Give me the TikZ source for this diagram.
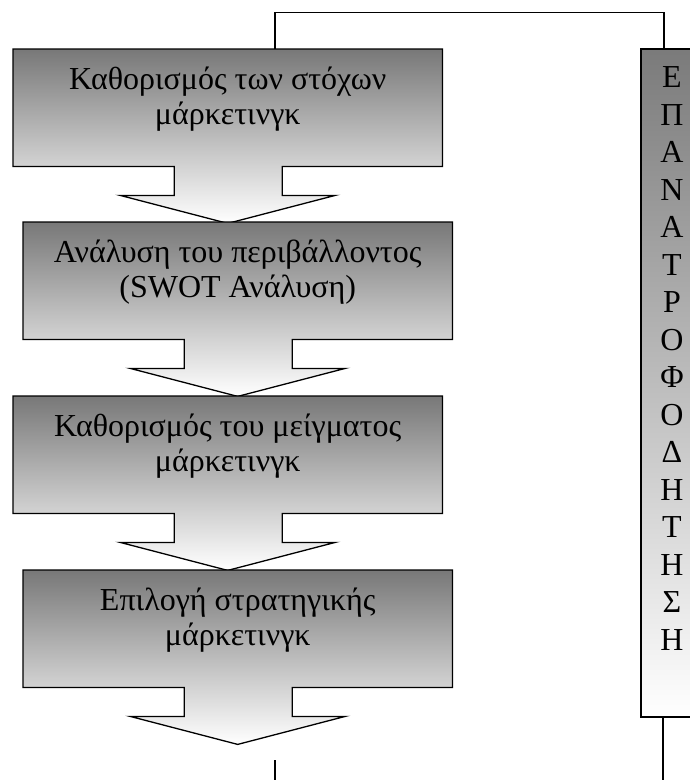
\documentclass[tikz,border=0pt]{standalone}
\usepackage{fontspec}
\setmainfont{Liberation Serif}
\usetikzlibrary{calc}

\tikzset{
  outline/.style={draw=black, line width=1.3pt},
  stepbody/.style={rectangle, draw=none, inner sep=0pt,
    minimum width=429pt, minimum height=117pt, anchor=north west},
  stepshade/.style={outline, top color=black!53, bottom color=white},
  steptext/.style={align=center, inner sep=0pt, font=\fontsize{32}{35}\selectfont},
  fbbox/.style={outline, rectangle, inner sep=0pt, minimum width=62pt,
    minimum height=668pt, top color=black!52, bottom color=white},
  fbtext/.style={align=center, inner sep=0pt, font=\fontsize{32}{37.5}\selectfont},
  link/.style={draw=black, line width=1.3pt},
}

% one step: a body box whose outline runs on into a down arrow
% #1 name, #2 left x, #3 top y, #4 text
\newcommand\flowstep[4]{%
  \node[stepbody] (#1) at (#2,#3) {};
  \path[stepshade] (#1.north west) -- (#1.north east) -- (#1.south east)
    -- ($(#1.south)+(54.5,0)$) -- ($(#1.south)+(54.5,29)$)
    -- ($(#1.south)+(107.5,29)$) -- ($(#1.south)+(0,57)$) coordinate (#1-tip)
    -- ($(#1.south)+(-107.5,29)$) -- ($(#1.south)+(-53.5,29)$)
    -- ($(#1.south)+(-53.5,0)$) -- (#1.south west) -- cycle;
  \node[steptext] (#1-text) at ($(#1.north)+(0,50.5)$) {#4};
}

\begin{document}
\begin{tikzpicture}[x=1pt, y=-1pt]
  \useasboundingbox (0,0) rectangle (690,780);
  \clip (0,0) rectangle (690,780);

  \flowstep{b1}{13}{49}{Καθορισμός των στόχων\\μάρκετινγκ}
  \flowstep{b2}{23}{222}{Ανάλυση του περιβάλλοντος\\(SWOT Ανάλυση)}
  \flowstep{b3}{13}{396}{Καθορισμός του μείγματος\\μάρκετινγκ}
  \flowstep{b4}{23}{570}{Επιλογή στρατηγικής\\μάρκετινγκ}

  % feedback column
  \node[fbbox] (fb) at (672,383) {};
  \node[fbtext, anchor=north] (fbt) at ($(fb.north)+(0,18)$)
    {Ε\\Π\\Α\\Ν\\Α\\Τ\\Ρ\\Ο\\Φ\\Ο\\Δ\\Η\\Τ\\Η\\Σ\\Η};

  % feedback loop back to the first step
  \draw[link] ($(fb.north)+(-8,0)$) -- ++(0,-36) -| ($(b1.north west)+(262,0)$);

  % lines leaving at the bottom
  \coordinate (outA) at (275,760);
  \coordinate (outB) at (275,785);
  \coordinate (fbout) at (663,785);
  \draw[link] (outA) -- (outB);
  \draw[link] ($(fb.south)+(-9,0)$) -- (fbout);
\end{tikzpicture}
\end{document}
